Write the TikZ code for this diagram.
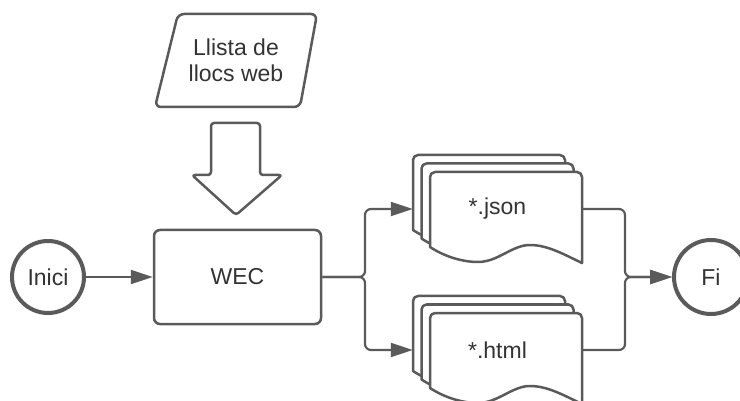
\documentclass[tikz,border=0pt]{standalone}
\usepackage{fontspec}
\setmainfont{Liberation Sans}
\usetikzlibrary{arrows.meta}
\definecolor{ln}{HTML}{5A5A5A}
\definecolor{tx}{HTML}{333333}
\tikzset{
  shapeline/.style={draw=ln, line width=2.5pt, fill=white, line join=round},
  conn/.style={draw=ln, line width=2.2pt, rounded corners=6pt},
  arr/.style={-{Triangle[length=22pt,width=14pt]}},
  lbl/.style={text=tx, font=\fontsize{23}{26}\selectfont, align=center, inner sep=0pt},
  endcircle/.style={circle, draw=ln, line width=4pt, fill=white, inner sep=0pt, text=tx, font=\fontsize{23}{26}\selectfont},
}
\newcommand\mysheet[2]{%
  \draw[shapeline] ({#1},{#2+75}) -- ({#1},{#2+5})
    arc[start angle=180,end angle=270,radius=5] -- ({#1+147},{#2})
    arc[start angle=270,end angle=360,radius=5] -- ({#1+152},{#2+91})
    .. controls ({#1+135},{#2+83}) and ({#1+118},{#2+73}) .. ({#1+100},{#2+73})
    .. controls ({#1+82},{#2+73}) and ({#1+68},{#2+90}) .. ({#1+48},{#2+90})
    .. controls ({#1+30},{#2+90}) and ({#1+12},{#2+83}) .. ({#1},{#2+75}) -- cycle;}
\begin{document}
\begin{tikzpicture}[x=1pt,y=-1pt]
\useasboundingbox (0,0) rectangle (740,401);
% input parallelogram
\draw[shapeline, rounded corners=6pt] (178,14) -- (317,14) -- (300,107) -- (155,107) -- cycle;
\node[lbl] (llista) at (236,60) {Llista de\\llocs web};
% block arrow
\draw[shapeline, rounded corners=3pt] (211,123) -- (260,123) -- (260,175) -- (282,175) -- (236,215) -- (192,175) -- (211,175) -- cycle;
% nodes
\node[endcircle, minimum size=72pt] (inici) at (48,277) {Inici};
\node[shapeline, rounded corners=6pt, minimum width=167pt, minimum height=94pt, text=tx, font=\fontsize{23}{26}\selectfont] (wec) at (237.5,277) {WEC};
\node[endcircle, minimum size=74pt] (fi) at (711,277) {Fi};
% document stacks
\mysheet{413}{155}\mysheet{421.5}{163.5}\mysheet{430}{172}
\mysheet{413}{296}\mysheet{421.5}{304.5}\mysheet{430}{313}
\node[lbl, minimum width=169pt, minimum height=20pt] (json) at (497.5,209) {*.json};
\node[lbl, minimum width=169pt, minimum height=20pt] (html) at (497.5,350) {*.html};
% junction coordinates
\coordinate (jl) at (365,277);
\coordinate (jr) at (625,277);
% connectors
\draw[conn, arr] (inici) -- (wec);
\draw[conn, arr] (wec.east) -- (jl) |- (json.west);
\draw[conn, arr] (wec.east) -- (jl) |- (html.west);
\draw[conn, arr] (json.east) -| (jr) -- (fi.west);
\draw[conn, arr] (html.east) -| (jr) -- (fi.west);
\end{tikzpicture}
\end{document}
